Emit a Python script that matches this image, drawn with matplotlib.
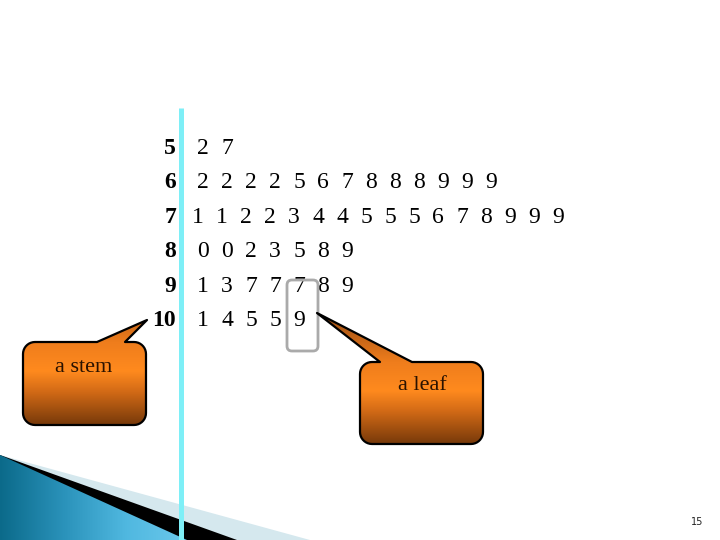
import numpy as np
import matplotlib
matplotlib.use("Agg")
import matplotlib.pyplot as plt
from matplotlib.patches import Polygon, FancyBboxPatch
from matplotlib.colors import LinearSegmentedColormap, to_rgb

# stem-and-leaf data
stems = [5, 6, 7, 8, 9, 10]
leaves = [
    [2, 7],
    [2, 2, 2, 2, 5, 6, 7, 8, 8, 8, 9, 9, 9],
    [1, 1, 2, 2, 3, 4, 4, 5, 5, 5, 6, 7, 8, 9, 9, 9],
    [0, 0, 2, 3, 5, 8, 9],
    [1, 3, 7, 7, 7, 8, 9],
    [1, 4, 5, 5, 9],
]
stem_label = "a stem"
leaf_label = "a leaf"
page_no = "15"

fig = plt.figure(figsize=(7.2, 5.4), dpi=100)
ax = fig.add_axes([0, 0, 1, 1])
ax.set_xlim(0, 720)
ax.set_ylim(540, 0)
ax.axis("off")

serif = "Liberation Serif"

# bottom-left decoration
ax.add_patch(Polygon([(0, 455), (310, 540), (0, 540)], closed=True,
                     facecolor="#d5e8ee", edgecolor="none", zorder=1))
ax.add_patch(Polygon([(0, 455), (237, 540), (0, 540)], closed=True,
                     facecolor="black", edgecolor="none", zorder=2))
blue = Polygon([(0, 455), (187, 540), (0, 540)], closed=True,
               facecolor="none", edgecolor="none", zorder=3)
ax.add_patch(blue)
bcmap = LinearSegmentedColormap.from_list("b", ["#0b6a8a", "#2a92ba", "#50b8e0", "#6cc9ec"])
grad = np.linspace(0, 1, 256).reshape(1, -1)
im = ax.imshow(grad, cmap=bcmap, extent=(0, 190, 540, 455), aspect="auto", zorder=3)
im.set_clip_path(blue)

# vertical separator
ax.plot([181, 181], [108, 540], color="#7eeff7", lw=3.6, zorder=5, solid_capstyle="butt")

# rows
base_y = 154
row_gap = 34.4
for i, (s, lv) in enumerate(zip(stems, leaves)):
    y = base_y + i * row_gap
    ax.text(176, y, str(s), fontsize=17, fontweight="bold", family=serif,
            ha="right", va="baseline", zorder=6)
    x0 = 198 if len(lv) > 15 else 203
    for j, d in enumerate(lv):
        ax.text(x0 + j * 24.0, y, str(d), fontsize=17, family=serif,
                ha="center", va="baseline", zorder=6)

# highlight box around a leaf column
ax.add_patch(FancyBboxPatch((287, 280), 31, 71, boxstyle="round,pad=0,rounding_size=5",
                            facecolor="none", edgecolor="#aaaaaa", lw=2, zorder=6))


def callout(x0, y0, x1, y1, r, bl, br, tip):
    pts = [(bl, y0), tip, (br, y0), (x1 - r, y0)]
    def arc(cx, cy, a0, a1):
        return [(cx + r * np.cos(a), cy + r * np.sin(a)) for a in np.linspace(a0, a1, 10)]
    pts += arc(x1 - r, y0 + r, -np.pi / 2, 0)
    pts += arc(x1 - r, y1 - r, 0, np.pi / 2)
    pts += arc(x0 + r, y1 - r, np.pi / 2, np.pi)
    pts += arc(x0 + r, y0 + r, np.pi, 1.5 * np.pi)
    poly = Polygon(pts, closed=True, facecolor="none", edgecolor="black",
                   lw=1.6, zorder=8, joinstyle="round")
    ax.add_patch(poly)
    ty = tip[1]
    ys = np.linspace(ty, y1, 200)
    t = (ys - y0) / (y1 - y0)
    stops_t = [-0.7, 0.0, 0.35, 0.6, 1.0]
    stops_c = [to_rgb(c) for c in ["#8b4513", "#ef7d1c", "#ff8a1e", "#d26a16", "#77390a"]]
    cols = np.array([[np.interp(tt, stops_t, [c[k] for c in stops_c]) for k in range(3)] for tt in t])
    img = cols.reshape(-1, 1, 3)
    im2 = ax.imshow(img, extent=(min(x0, tip[0]), max(x1, tip[0]), y1, ty),
                    aspect="auto", zorder=7, interpolation="bilinear")
    im2.set_clip_path(poly)
    return poly


callout(23, 342, 146, 425, 12, 97, 125, (147, 320))
ax.text(84, 367, stem_label, fontsize=16, family=serif, color="#2a1200",
        ha="center", va="center", zorder=9)
callout(360, 362, 483, 444, 12, 380, 412, (317, 313))
ax.text(422, 385, leaf_label, fontsize=16, family=serif, color="#2a1200",
        ha="center", va="center", zorder=9)

ax.set_xlim(0, 720)
ax.set_ylim(540, 0)

ax.text(697, 522, page_no, fontsize=7, family="DejaVu Sans", color="#222222",
        ha="center", va="center")

fig.savefig("out.png", dpi=100)
